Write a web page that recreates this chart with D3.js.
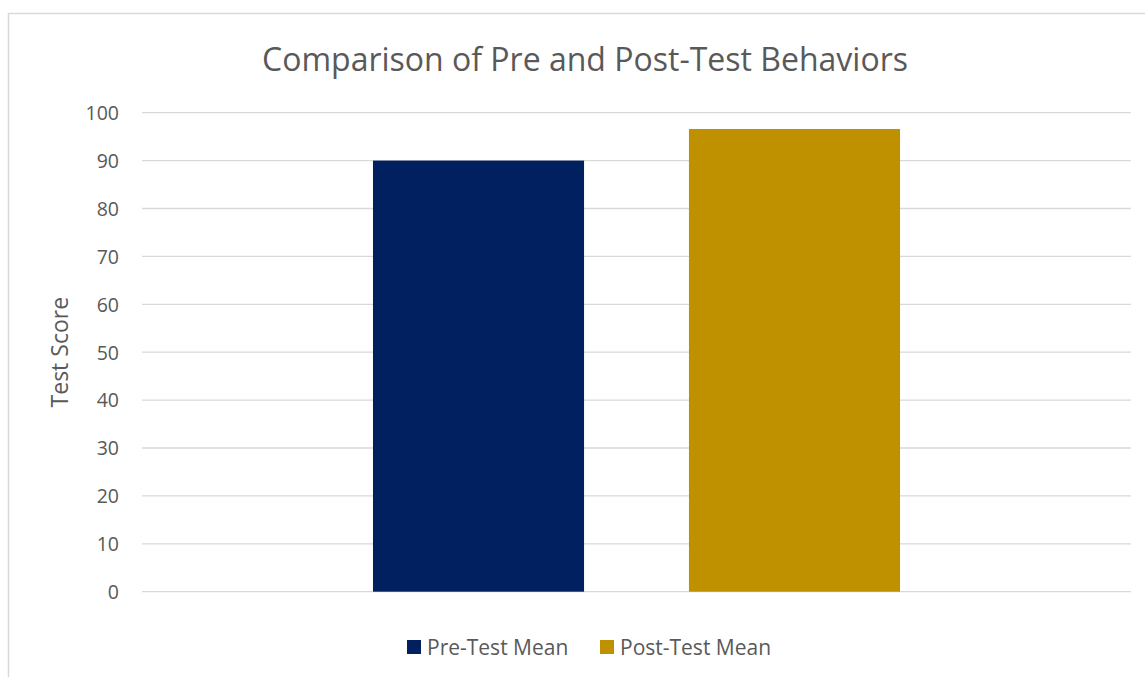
<!DOCTYPE html>
<html>
<head>
<meta charset="utf-8">
<script src="https://cdn.jsdelivr.net/npm/d3@7"></script>
<style>
  html, body { margin: 0; padding: 0; background: #fff; }
  svg { display: block; }
  text { font-family: "Open Sans", "Segoe UI", sans-serif; fill: #595959; }
</style>
</head>
<body>
<svg id="chart" width="1145" height="677"></svg>
<script>
const title = "Comparison of Pre and Post-Test Behaviors";
const yAxisLabel = "Test Score";
const series = ["Pre-Test Mean", "Post-Test Mean"];
const values = [90, 96.6];
const colors = ["#002060", "#BF9000"];
const yTicks = [0, 10, 20, 30, 40, 50, 60, 70, 80, 90, 100];

const svg = d3.select("#chart");
const W = 1145, H = 677;

// chart border
svg.append("rect")
  .attr("x", 8.5).attr("y", 13.5)
  .attr("width", W + 10).attr("height", H + 10)
  .attr("fill", "none").attr("stroke", "#D9D9D9").attr("stroke-width", 1.5);

const plot = { left: 142, right: 1131, top: 112.7, bottom: 591.7 };

const y = d3.scaleLinear().domain([0, 100]).range([plot.bottom, plot.top]);
const x = d3.scaleBand().domain(series).range([plot.left, plot.right])
  .paddingInner(0.332).paddingOuter(0.731);

// gridlines
svg.append("g").selectAll("line").data(yTicks).join("line")
  .attr("x1", plot.left).attr("x2", plot.right)
  .attr("y1", d => y(d)).attr("y2", d => y(d))
  .attr("stroke", "#D9D9D9").attr("stroke-width", 1.3);

// y axis labels
const yAxis = d3.axisLeft(y).tickValues(yTicks).tickSize(0).tickPadding(0);
const gy = svg.append("g").attr("transform", `translate(${plot.left - 23},0)`).call(yAxis);
gy.select(".domain").remove();
gy.selectAll("text")
  .attr("font-size", 19.5)
  .attr("font-family", '"Open Sans", sans-serif')
  .attr("fill", "#595959")
  .attr("dy", "0.35em");

// bars
svg.append("g").selectAll("rect").data(series).join("rect")
  .attr("x", d => x(d))
  .attr("width", x.bandwidth())
  .attr("y", (d, i) => y(values[i]))
  .attr("height", (d, i) => y(0) - y(values[i]))
  .attr("fill", (d, i) => colors[i]);

// title
svg.append("text")
  .attr("x", 585).attr("y", 71)
  .attr("text-anchor", "middle")
  .attr("font-size", 32)
  .text(title);

// y axis title
svg.append("text")
  .attr("transform", `translate(68,${(plot.top + plot.bottom) / 2}) rotate(-90)`)
  .attr("text-anchor", "middle")
  .attr("font-size", 23)
  .text(yAxisLabel);

// legend
const legendX = [407, 600];
const lg = svg.append("g").selectAll("g").data(series).join("g")
  .attr("transform", (d, i) => `translate(${legendX[i]},640)`);
lg.append("rect").attr("width", 14).attr("height", 14)
  .attr("fill", (d, i) => colors[i]);
lg.append("text").attr("x", 20).attr("y", 14.5)
  .attr("font-size", 21).text(d => d);
</script>
</body>
</html>
